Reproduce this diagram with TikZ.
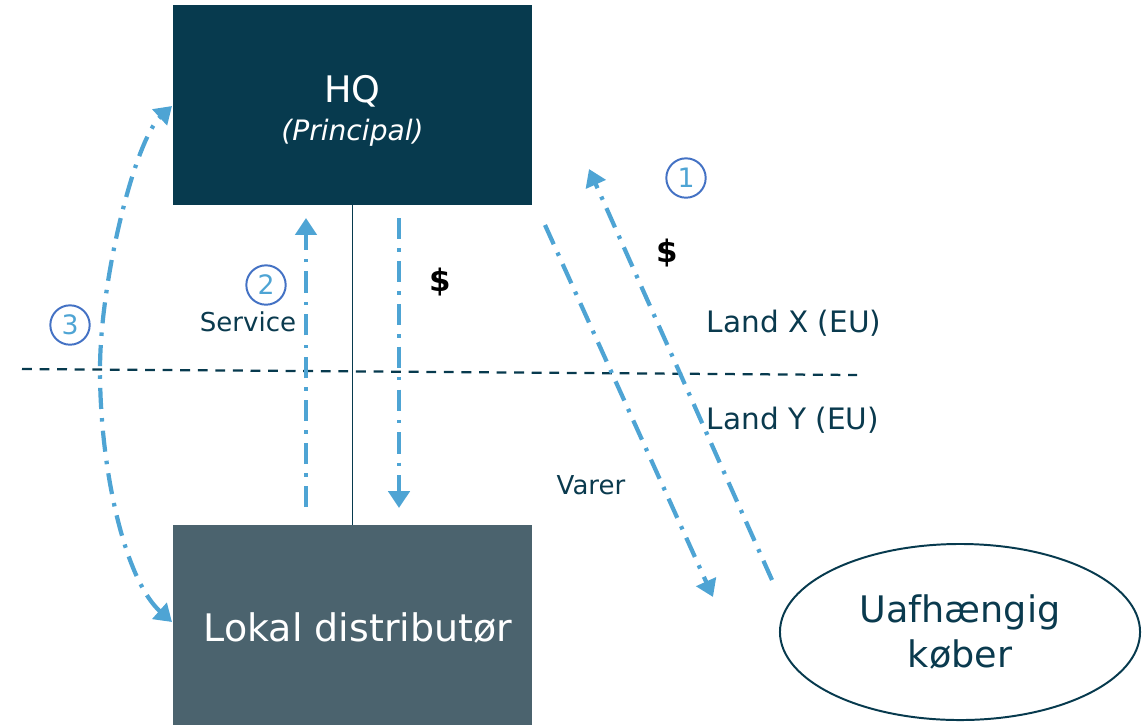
\documentclass[tikz,border=0pt]{standalone}
\usepackage{fontspec}
\setmainfont{DejaVu Sans}
\usetikzlibrary{arrows.meta,shapes.geometric}
\definecolor{hqblue}{HTML}{073A4E}
\definecolor{distgray}{HTML}{4B636E}
\definecolor{flowblue}{HTML}{4EA4D4}
\definecolor{ringblue}{HTML}{4472C4}
\definecolor{inktext}{HTML}{0A3A4E}

\tikzset{
  flowtip/.tip={Triangle[width=15pt,length=12pt]},
  flow/.style={flowblue, line width=3pt,
    dash pattern=on 15pt off 6.5pt on 2.5pt off 6.5pt, -flowtip},
  ring/.style={circle, draw=ringblue, line width=1.4pt, minimum size=28pt,
    inner sep=0pt, text=flowblue, font=\fontsize{19}{22}\selectfont},
  tag/.style={text=inktext, font=\fontsize{18.5}{22}\selectfont},
  money/.style={font=\bfseries\fontsize{22}{26}\selectfont},
  plate/.style={minimum width=8.975cm, minimum height=5cm, inner sep=0pt},
}

\begin{document}
\begin{tikzpicture}
\begin{scope}[x=0.025cm, y=-0.025cm]
\useasboundingbox (0,0) rectangle (1142,725);

% boxes
\node[plate, fill=hqblue] (hq) at (352.5,105) {};
\node[text=white, align=center, font=\fontsize{26}{28.5}\selectfont] (hqname) at (352.5,111)
      {HQ\\[-1pt]{\fontsize{20}{24}\selectfont\itshape (Principal)}};
\node[plate, fill=distgray] (dist) at (352.5,625) {};
\node[text=white, font=\fontsize{27}{30}\selectfont] (distname) at (358,628) {Lokal distributør};
\node[ellipse, draw=hqblue, line width=1.4pt, minimum width=9cm, minimum height=4.4cm,
      text=inktext, align=center, font=\fontsize{26}{32}\selectfont] (buyer) at (960,632)
      {Uafhængig\\køber};

\draw[hqblue, line width=0.8pt] (hq.south) -- (dist.north);

% border between the countries
\coordinate (borderW) at (22,369);
\coordinate (borderE) at (857,375);
\draw[hqblue, line width=1.6pt, dash pattern=on 7pt off 5.5pt] (borderW) -- (borderE);

% flows
\coordinate (svcFoot) at (306,507);
\coordinate (svcTip) at (306,218);
\coordinate (payTop) at (399,218);
\coordinate (payTip) at (399,508);
\coordinate (goodsTop) at (545,225);
\coordinate (goodsTip) at (713,597);
\coordinate (saleFoot) at (772,580);
\coordinate (saleTip) at (589,169);
\coordinate (loopLow) at (172,622);
\coordinate (loopMid) at (100,370);
\coordinate (loopHigh) at (172,106);

\draw[flow] (svcFoot) -- (svcTip);
\draw[flow] (payTop) -- (payTip);
\draw[flow] (goodsTop) -- (goodsTip);
\draw[flow] (saleFoot) -- (saleTip);
\draw[flow, flowtip-flowtip]
  (loopLow) .. controls (125,580) and (100,470) .. (loopMid)
            .. controls (100,280) and (135,140) .. (loopHigh);

% labels
\node[ring] (ringA) at (686,178) {1};
\node[ring] (ringB) at (266,285) {2};
\node[ring] (ringC) at (70,325) {3};
\node[money] (payA) at (440,282) {\$};
\node[money] (payB) at (667,253) {\$};
\node[tag] (service) at (248,322) {Service};
\node[tag] (goods) at (591,485) {Varer};
\node[tag, font=\fontsize{21}{24}\selectfont] (landX) at (794,323) {Land X (EU)};
\node[tag, font=\fontsize{21}{24}\selectfont] (landY) at (793,420) {Land Y (EU)};

\end{scope}
\end{tikzpicture}
\end{document}
